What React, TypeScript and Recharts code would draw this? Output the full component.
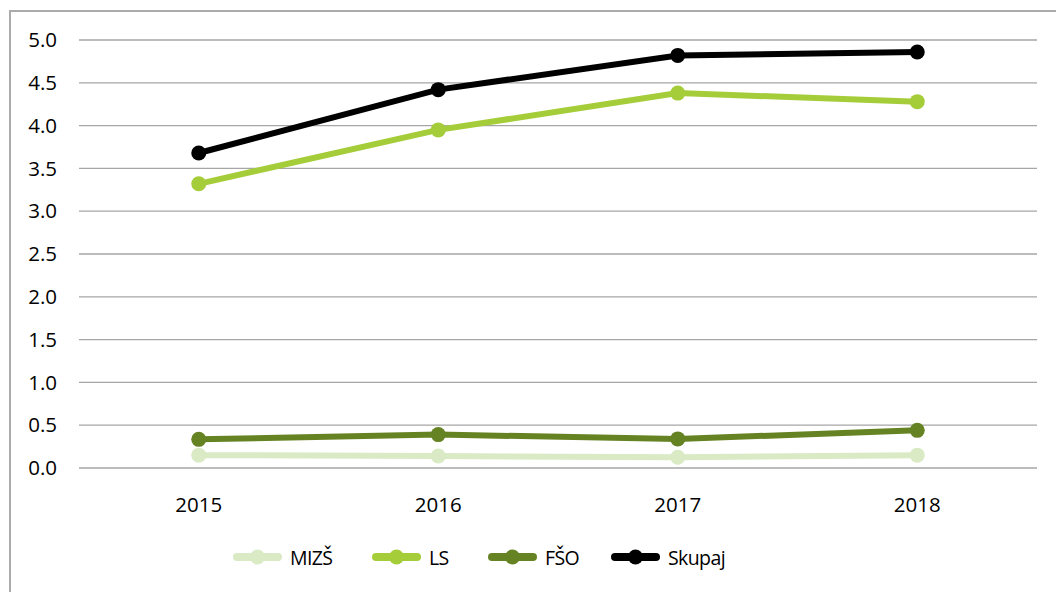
import { CartesianGrid, Line, LineChart, XAxis, YAxis } from "recharts";

const years = ["2015", "2016", "2017", "2018"];
const mizs = [0.15, 0.14, 0.125, 0.15];
const ls = [3.32, 3.95, 4.38, 4.28];
const fso = [0.335, 0.39, 0.34, 0.44];
const skupaj = [3.68, 4.42, 4.82, 4.86];
const yTicks = [0, 0.5, 1, 1.5, 2, 2.5, 3, 3.5, 4, 4.5, 5];

const series = [
  { key: "MIZŠ", values: mizs, color: "#d9eac4" },
  { key: "LS", values: ls, color: "#a5cd39" },
  { key: "FŠO", values: fso, color: "#668323" },
  { key: "Skupaj", values: skupaj, color: "#000000" },
];

// category i sits in the middle of band [i, i+1]
const data = years.map((y, i) => {
  const row: Record<string, number | string> = { year: y, pos: i + 0.5 };
  series.forEach((s) => (row[s.key] = s.values[i]));
  return row;
});

const font = "'Open Sans', sans-serif";
// slot width of each legend entry (icon start to next icon start)
const legendSlots = [139, 116, 123, 120];

function LegendRow() {
  return (
    <div style={{ position: "absolute", left: 233, top: 545, display: "flex", height: 24 }}>
      {series.map((s, i) => (
        <div key={s.key} style={{ display: "flex", alignItems: "center", gap: 8, width: legendSlots[i] }}>
          <svg width={49} height={16} style={{ flex: "none" }}>
            <line x1={4} y1={8} x2={45} y2={8} stroke={s.color} strokeWidth={8} strokeLinecap="round" />
            <circle cx={24.5} cy={8} r={7.5} fill={s.color} />
          </svg>
          <span style={{ fontFamily: font, fontSize: 19.5, color: "#000", letterSpacing: -0.6, whiteSpace: "nowrap" }}>
            {s.key}
          </span>
        </div>
      ))}
    </div>
  );
}

export default function App() {
  return (
    <div style={{ position: "fixed", left: 0, top: 0, width: 1056, height: 592, overflow: "hidden", background: "#fff" }}>
      <div
        style={{
          position: "absolute",
          left: 9,
          top: 10,
          width: 1200,
          height: 800,
          borderLeft: "2px solid #ababab",
          borderTop: "2px solid #ababab",
        }}
      />
      <div style={{ position: "absolute", left: 0, top: 0 }}>
        <LineChart width={1056} height={592} data={data} margin={{ top: 40, right: 19, bottom: 94, left: 19 }}>
          <CartesianGrid vertical={false} stroke="#a6a6a6" strokeWidth={1.3} />
          <XAxis
            xAxisId="grid"
            type="number"
            dataKey="pos"
            domain={[0, 4]}
            ticks={[0, 1, 2, 3, 4]}
            tick={false}
            tickSize={8}
            height={0}
            stroke="#a6a6a6"
            strokeWidth={1.3}
          />
          <XAxis
            xAxisId="lab"
            type="number"
            dataKey="pos"
            domain={[0, 4]}
            ticks={data.map((d) => d.pos as number)}
            tickFormatter={(v: number) => years[Math.floor(v)]}
            axisLine={false}
            tickLine={false}
            tickSize={0}
            tickMargin={29}
            height={30}
            tick={{ fill: "#000", fontSize: 20.5, fontFamily: font }}
          />
          <YAxis
            domain={[0, 5]}
            ticks={yTicks}
            tickFormatter={(v: number) => v.toFixed(1)}
            axisLine={false}
            tickLine={false}
            tickSize={0}
            tickMargin={22}
            width={60}
            tick={{ fill: "#000", fontSize: 20.5, fontFamily: font }}
          />
          {series.map((s) => (
            <Line
              key={s.key}
              xAxisId="lab"
              dataKey={s.key}
              stroke={s.color}
              strokeWidth={6}
              dot={{ r: 7.5, fill: s.color, stroke: "none" }}
              activeDot={false}
              isAnimationActive={false}
            />
          ))}
        </LineChart>
      </div>
      <LegendRow />
    </div>
  );
}
